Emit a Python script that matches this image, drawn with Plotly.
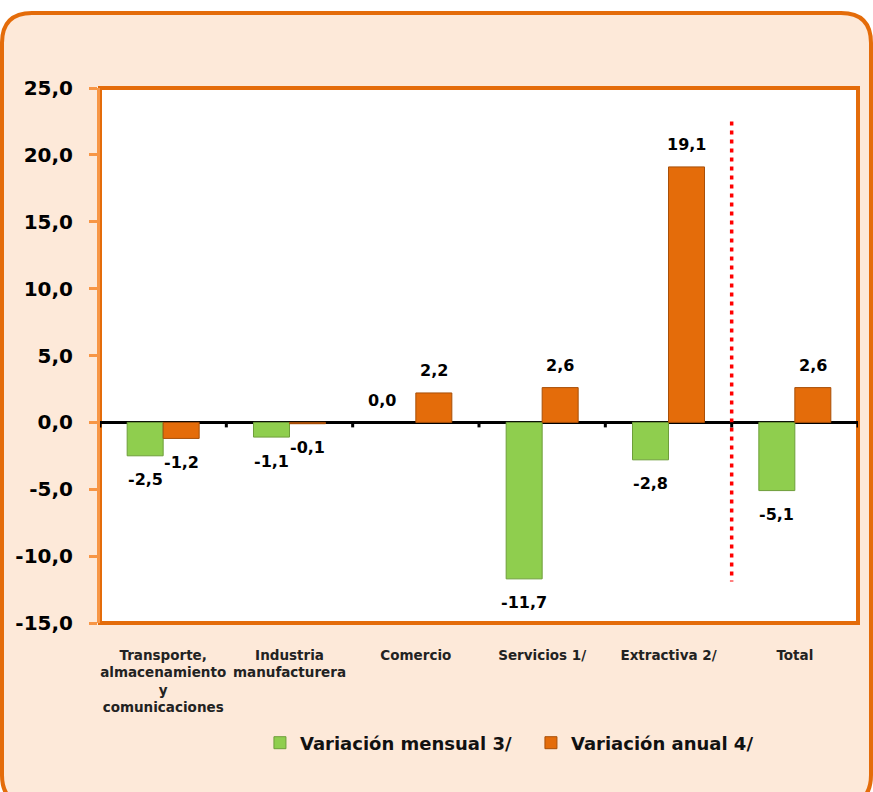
import plotly.graph_objects as go

categories = ["Transporte,<br>almacenamiento<br>y<br>comunicaciones",
              "Industria<br>manufacturera", "Comercio", "Servicios 1/",
              "Extractiva 2/", "Total"]
mensual = [-2.5, -1.1, 0.0, -11.7, -2.8, -5.1]
anual = [-1.2, -0.1, 2.2, 2.6, 19.1, 2.6]
series_names = ["Variación mensual 3/", "Variación anual 4/"]
y_ticks = [-15, -10, -5, 0, 5, 10, 15, 20, 25]

W, H = 873, 792
ML, MR, MT, MB = 100, 15, 88, 169
PW, PH = W - ML - MR, H - MT - MB

GREEN, GREEN_D = "#8FCE4E", "#6E9E3A"
ORANGE, ORANGE_D = "#E46C0A", "#A84F08"
BORDER = "#E46C0A"
AXIS_O = "#F79646"
PEACH = "#FDE9D9"
FONT = "DejaVu Sans"


def fmt(v):
    return f"{v:.1f}".replace(".", ",")


bargap = 0.43
bw = (1 - bargap) / 2
xs = list(range(len(categories)))


def px(x):
    return (x - ML) / PW


def py(y):
    return (H - MB - y) / PH


fig = go.Figure()
fig.add_trace(go.Bar(x=xs, y=mensual, name=series_names[0], hoverinfo="skip",
                     marker=dict(color=GREEN, line=dict(
                         color=GREEN_D, width=[1 if v != 0 else 0 for v in mensual]))))
fig.add_trace(go.Bar(x=xs, y=anual, name=series_names[1], hoverinfo="skip",
                     marker=dict(color=ORANGE, line=dict(
                         color=ORANGE_D, width=[1 if v != 0 else 0 for v in anual]))))

annotations = []
for vals, off in ((mensual, -bw / 2), (anual, bw / 2)):
    for i, v in enumerate(vals):
        annotations.append(dict(
            x=i + off, y=v, xref="x", yref="y", text=fmt(v),
            showarrow=False, yshift=22 if v >= 0 else -24,
            xshift=-16 if v == 0 else 0,
            font=dict(family=FONT, size=16, color="black", weight="bold")))

# rounded outer frame (pixel geometry)
l, t, R, B, r = 2, 13, 871, 805, 30
def P(x, y):
    return f"{px(x):.5f},{py(y):.5f}"
frame_path = (f"M{P(l+r, t)} L{P(R-r, t)} Q{P(R, t)} {P(R, t+r)} "
              f"L{P(R, B-r)} Q{P(R, B)} {P(R-r, B)} L{P(l+r, B)} "
              f"Q{P(l, B)} {P(l, B-r)} L{P(l, t+r)} Q{P(l, t)} {P(l+r, t)} Z")

shapes = [
    dict(type="path", path=frame_path, xref="paper", yref="paper",
         fillcolor=PEACH, line=dict(color=BORDER, width=4), layer="below"),
    dict(type="rect", x0=0, x1=1, y0=0, y1=1, xref="paper", yref="paper",
         fillcolor="white", line=dict(color=BORDER, width=4), layer="below"),
    dict(type="line", x0=4.5, x1=4.5, y0=22.5, y1=-11.9, xref="x", yref="y",
         line=dict(color="#FF0000", width=3.5, dash="4px,5px"), layer="above"),
]
for b in [i + 0.5 for i in range(-1, len(categories))]:
    shapes.append(dict(type="line", x0=b, x1=b, xref="x", yref="y",
                       ysizemode="pixel", yanchor=0, y0=0, y1=-5,
                       line=dict(color="black", width=3)))

fig.update_layout(
    width=W, height=H,
    margin=dict(l=ML, r=MR, t=MT, b=MB),
    paper_bgcolor="white", plot_bgcolor="white",
    barmode="group", bargap=bargap, bargroupgap=0,
    showlegend=True,
    legend=dict(orientation="h", x=0.211, y=py(743), xanchor="left", yanchor="middle",
                entrywidth=226,
                font=dict(family=FONT, size=18, color="#111111", weight="bold"),
                bgcolor="rgba(0,0,0,0)", itemclick=False),
    xaxis=dict(range=[-0.5, len(categories) - 0.5], tickvals=xs, ticktext=categories,
               showgrid=False, zeroline=False, showline=False, ticks="",
               ticklabelstandoff=22,
               tickfont=dict(family=FONT, size=13.5, color="#222222", weight="bold")),
    yaxis=dict(range=[-15, 25], tickvals=y_ticks, ticktext=[fmt(v) for v in y_ticks],
               showgrid=False, zeroline=True, zerolinecolor="black", zerolinewidth=3,
               showline=True, linecolor=AXIS_O, linewidth=3,
               ticks="outside", ticklen=8, tickwidth=3, tickcolor=AXIS_O,
               ticklabelstandoff=12,
               tickfont=dict(family=FONT, size=20, color="black", weight="bold")),
    annotations=annotations,
    shapes=shapes,
)

fig.write_html("out.html", config={"displayModeBar": False},
               post_script="document.body.style.margin='0';")
